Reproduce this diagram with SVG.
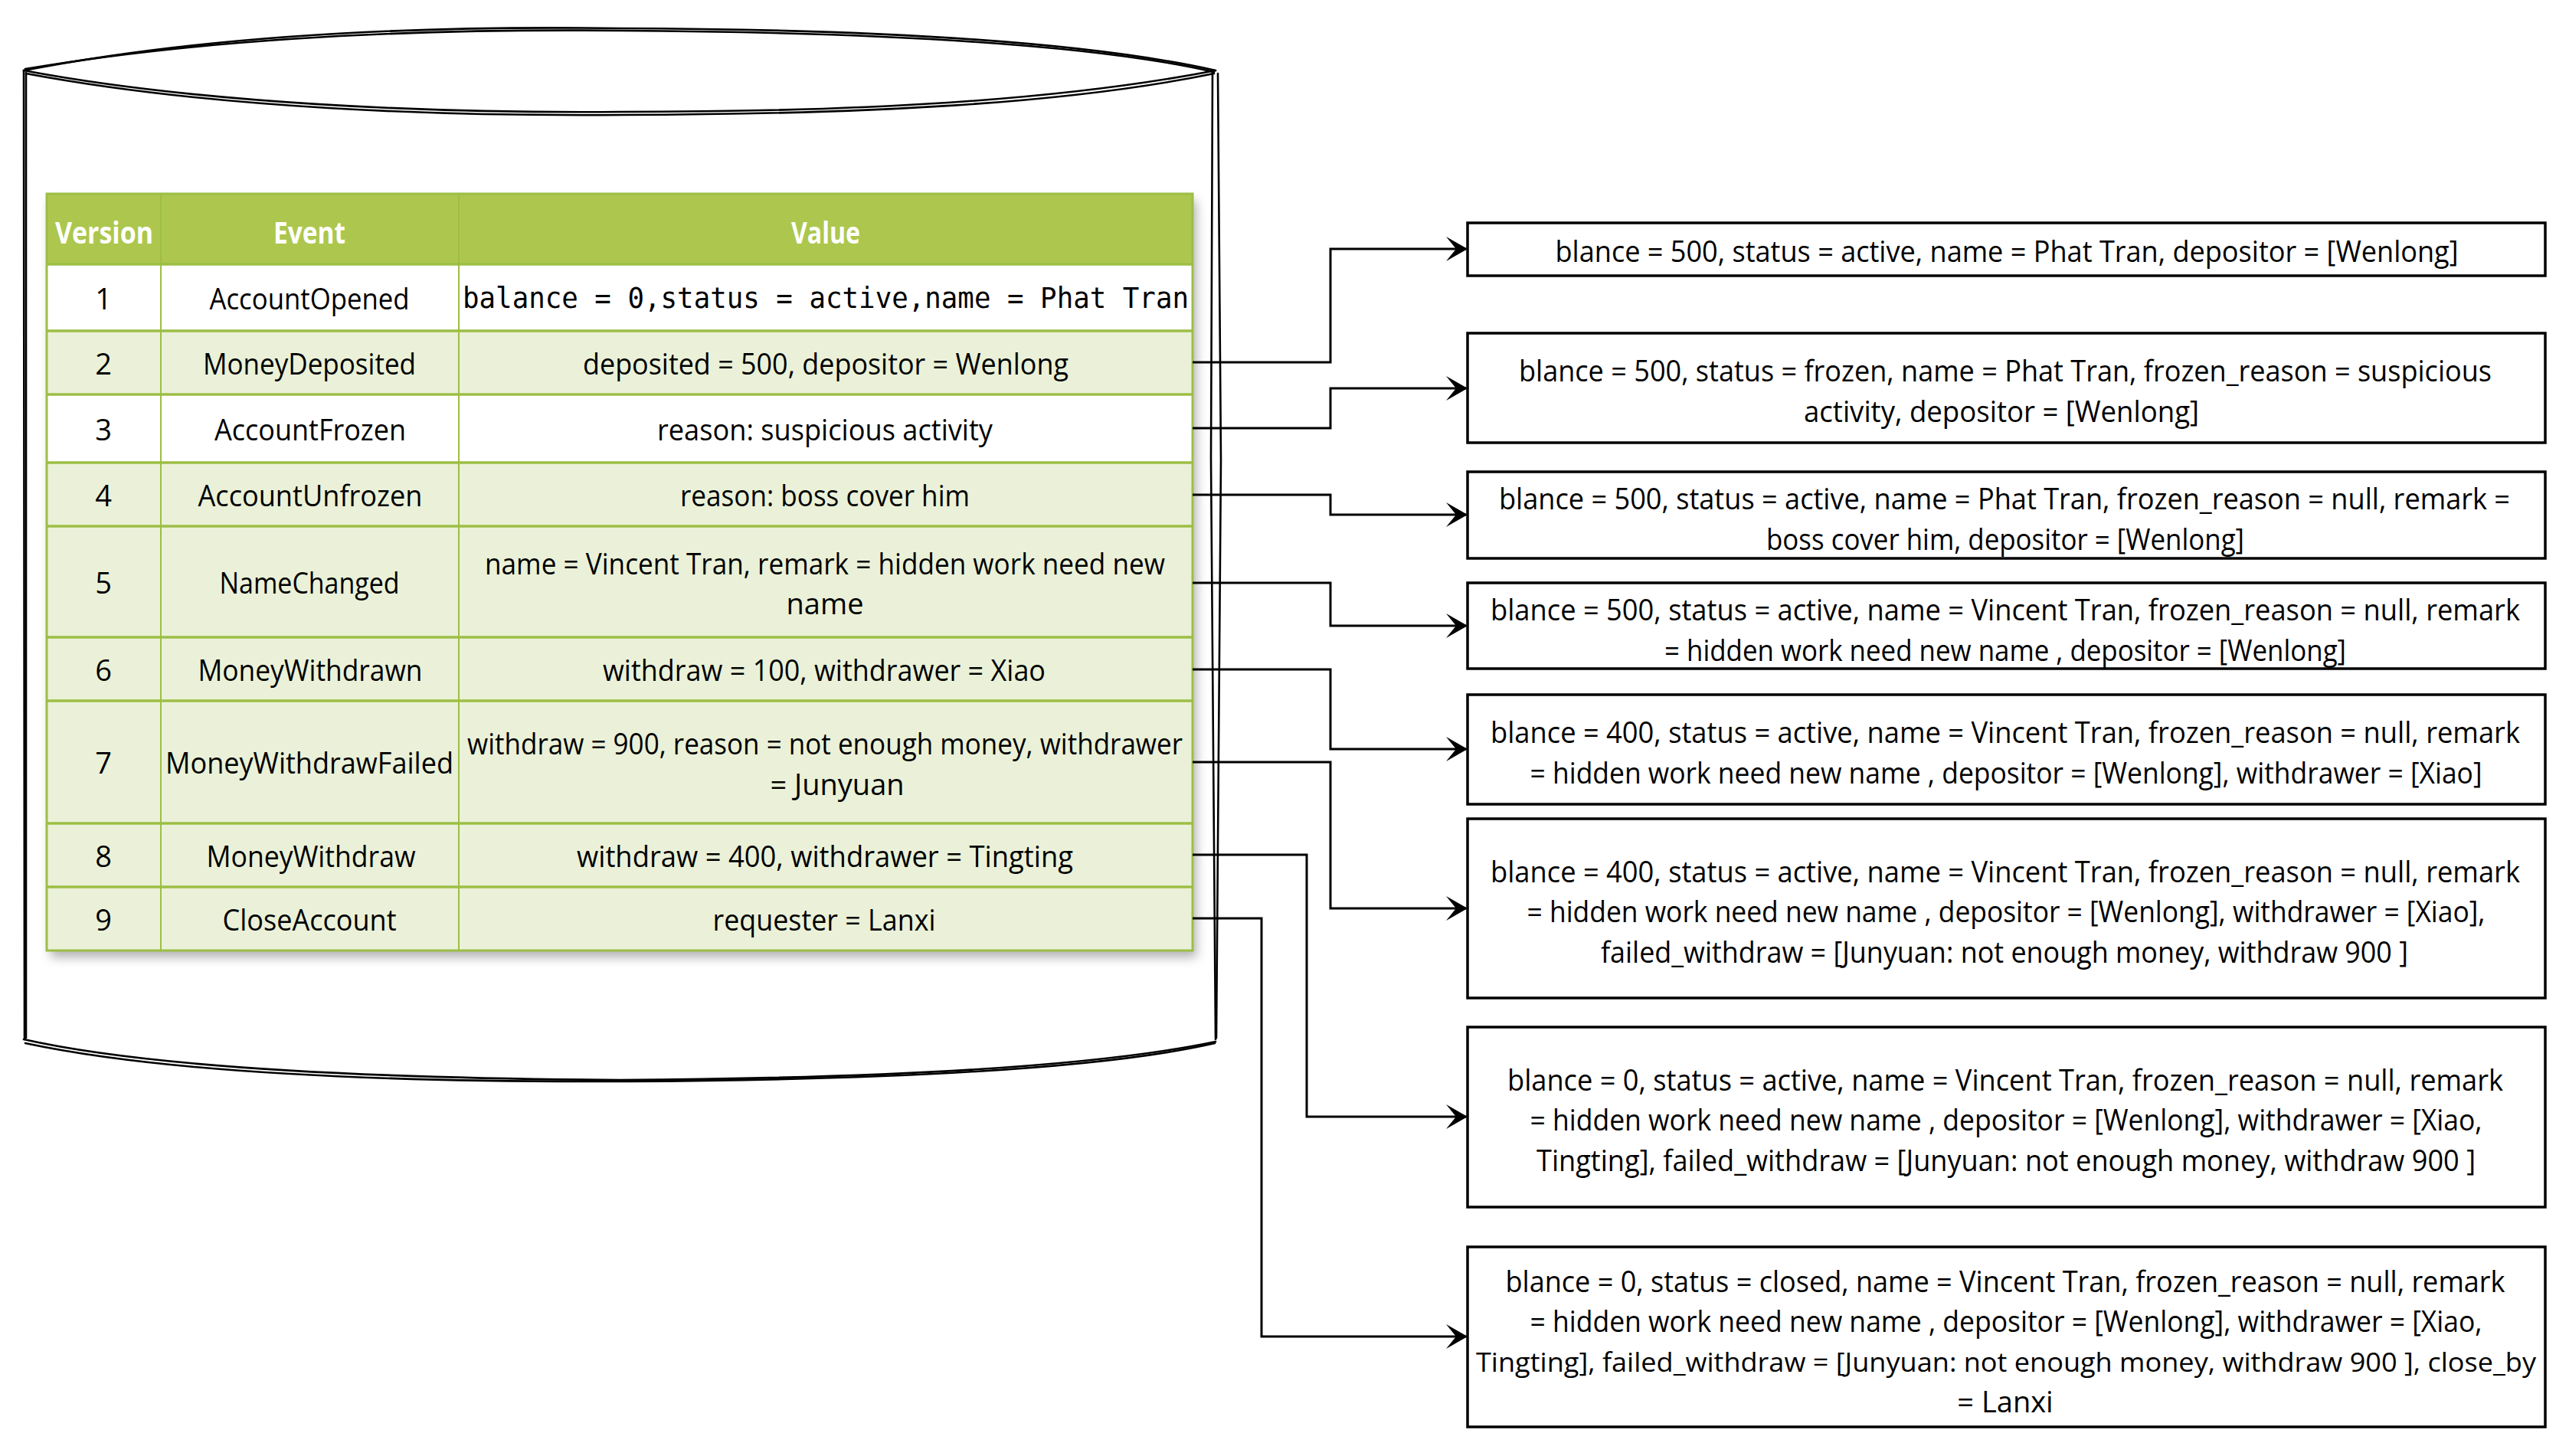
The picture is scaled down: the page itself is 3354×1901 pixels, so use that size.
<svg xmlns="http://www.w3.org/2000/svg" width="3354" height="1901" viewBox="0 0 3354 1901">
<defs>
<style>
.sk{fill:none;stroke:#000;stroke-width:2.6;stroke-linecap:round;stroke-linejoin:round}
.t{font-family:"Open Sans","Noto Sans","Liberation Sans",sans-serif;font-size:38px;fill:#000;text-anchor:middle;dominant-baseline:central}
.h{font-family:"Open Sans","Noto Sans","Liberation Sans",sans-serif;font-size:40px;font-weight:bold;fill:#fff;text-anchor:middle;dominant-baseline:central}
.mono{font-family:"DejaVu Sans Mono","Liberation Mono",monospace;font-size:37px;fill:#000;text-anchor:middle;dominant-baseline:central}
.hline{stroke:#9DBE45;stroke-width:3.5}
.vline{stroke:#9DBE45;stroke-width:2}
.box{fill:#fff;stroke:#000;stroke-width:3.5}
.conn{fill:none;stroke:#000;stroke-width:3}
</style>
<marker id="arrow" markerUnits="userSpaceOnUse" markerWidth="32" markerHeight="36" viewBox="-28 -18 32 36" refX="0" refY="0" orient="auto">
<path d="M2,0 L-26,-16 L-13,0 L-26,16 Z" fill="#000"/>
</marker>
<filter id="shadow" x="-5%" y="-5%" width="112%" height="115%">
<feDropShadow dx="5" dy="9" stdDeviation="7" flood-color="#000" flood-opacity="0.3"/>
</filter>
</defs>
<rect width="3354" height="1901" fill="#fff"/>

<g id="database">
<path d="M31,92 V1357 A778,53 0 0 0 1587,1357 V92 Z" fill="#fff" stroke="none"/>
<ellipse cx="809" cy="92" rx="778" ry="55" fill="#fff" stroke="none"/>
<path class="sk" d="M31,92 C300,40 600,34 809,37 C1100,38 1400,50 1587,92"/>
<path class="sk" d="M33,90 C320,42 620,38 812,40 C1120,42 1420,56 1585,94"/>
<path class="sk" d="M31,92 C260,135 560,148 809,146 C1120,146 1380,132 1587,92"/>
<path class="sk" d="M34,96 C280,142 580,152 815,150 C1130,149 1390,136 1585,96"/>
<path class="sk" d="M31,92 L32,1357"/>
<path class="sk" d="M34,95 L34,1355"/>
<path class="sk" d="M1583,94 L1581,600 L1587,1357"/>
<path class="sk" d="M1590,96 L1594,600 L1588,1355"/>
<path class="sk" d="M31,1357 C200,1395 500,1408 809,1410 C1120,1408 1420,1395 1587,1360"/>
<path class="sk" d="M33,1362 C220,1402 520,1413 820,1412 C1130,1410 1430,1398 1586,1362"/>
</g>

<g id="event-table">
<g filter="url(#shadow)">
<rect x="61" y="253" width="1496" height="988" fill="#EAF1D8"/>
</g>
<rect x="61" y="253" width="1496" height="92" fill="#ADC74E"/>
<rect x="61" y="345" width="1496" height="87" fill="#fff"/>
<rect x="61" y="432" width="1496" height="83" fill="#EAF1D8"/>
<rect x="61" y="515" width="1496" height="89" fill="#fff"/>
<g>
<line class="hline" x1="61" y1="345" x2="1557" y2="345"/>
<line class="hline" x1="61" y1="432" x2="1557" y2="432"/>
<line class="hline" x1="61" y1="515" x2="1557" y2="515"/>
<line class="hline" x1="61" y1="604" x2="1557" y2="604"/>
<line class="hline" x1="61" y1="687" x2="1557" y2="687"/>
<line class="hline" x1="61" y1="832" x2="1557" y2="832"/>
<line class="hline" x1="61" y1="915" x2="1557" y2="915"/>
<line class="hline" x1="61" y1="1075" x2="1557" y2="1075"/>
<line class="hline" x1="61" y1="1158" x2="1557" y2="1158"/>
<line class="vline" x1="210" y1="253" x2="210" y2="1241"/>
<line class="vline" x1="599" y1="253" x2="599" y2="1241"/>
<rect x="61" y="253" width="1496" height="988" fill="none" stroke="#9DBE45" stroke-width="3"/>
</g>
<text class="h" x="136" y="302" textLength="128" lengthAdjust="spacingAndGlyphs">Version</text>
<text class="h" x="404" y="302" textLength="94" lengthAdjust="spacingAndGlyphs">Event</text>
<text class="h" x="1078" y="302" textLength="90" lengthAdjust="spacingAndGlyphs">Value</text>

<text class="t" x="135" y="389">1</text>
<text class="t" x="135" y="474">2</text>
<text class="t" x="135" y="560">3</text>
<text class="t" x="135" y="646">4</text>
<text class="t" x="135" y="760">5</text>
<text class="t" x="135" y="874">6</text>
<text class="t" x="135" y="995">7</text>
<text class="t" x="135" y="1117">8</text>
<text class="t" x="135" y="1200">9</text>

<text class="t" x="404" y="389" textLength="261" lengthAdjust="spacingAndGlyphs">AccountOpened</text>
<text class="t" x="404" y="474" textLength="278" lengthAdjust="spacingAndGlyphs">MoneyDeposited</text>
<text class="t" x="405" y="560" textLength="250" lengthAdjust="spacingAndGlyphs">AccountFrozen</text>
<text class="t" x="405" y="646" textLength="293" lengthAdjust="spacingAndGlyphs">AccountUnfrozen</text>
<text class="t" x="404" y="760" textLength="235" lengthAdjust="spacingAndGlyphs">NameChanged</text>
<text class="t" x="405" y="874" textLength="293" lengthAdjust="spacingAndGlyphs">MoneyWithdrawn</text>
<text class="t" x="404" y="995" textLength="376" lengthAdjust="spacingAndGlyphs">MoneyWithdrawFailed</text>
<text class="t" x="406" y="1117" textLength="273" lengthAdjust="spacingAndGlyphs">MoneyWithdraw</text>
<text class="t" x="404" y="1200" textLength="227" lengthAdjust="spacingAndGlyphs">CloseAccount</text>

<text class="mono" x="1078" y="389" textLength="948" lengthAdjust="spacingAndGlyphs">balance = 0,status = active,name = Phat Tran</text>
<text class="t" x="1078" y="474" textLength="634" lengthAdjust="spacingAndGlyphs">deposited = 500, depositor = Wenlong</text>
<text class="t" x="1077" y="560" textLength="438" lengthAdjust="spacingAndGlyphs">reason: suspicious activity</text>
<text class="t" x="1077" y="646" textLength="378" lengthAdjust="spacingAndGlyphs">reason: boss cover him</text>
<text class="t" x="1077" y="735" textLength="888" lengthAdjust="spacingAndGlyphs">name = Vincent Tran, remark = hidden work need new</text>
<text class="t" x="1077" y="787">name</text>
<text class="t" x="1076" y="874" textLength="578" lengthAdjust="spacingAndGlyphs">withdraw = 100, withdrawer = Xiao</text>
<text class="t" x="1077" y="970" textLength="934" lengthAdjust="spacingAndGlyphs">withdraw = 900, reason = not enough money, withdrawer</text>
<text class="t" x="1093" y="1023">= Junyuan</text>
<text class="t" x="1077" y="1117" textLength="648" lengthAdjust="spacingAndGlyphs">withdraw = 400, withdrawer = Tingting</text>
<text class="t" x="1076" y="1200" textLength="291" lengthAdjust="spacingAndGlyphs">requester = Lanxi</text>
</g>

<g id="connectors">
<path class="conn" d="M1557,473 H1737 V325 H1914" marker-end="url(#arrow)"/>
<path class="conn" d="M1557,559 H1737 V507 H1914" marker-end="url(#arrow)"/>
<path class="conn" d="M1557,646 H1737 V672 H1914" marker-end="url(#arrow)"/>
<path class="conn" d="M1557,761 H1737 V817 H1914" marker-end="url(#arrow)"/>
<path class="conn" d="M1557,874 H1737 V978 H1914" marker-end="url(#arrow)"/>
<path class="conn" d="M1557,995 H1737 V1186 H1914" marker-end="url(#arrow)"/>
<path class="conn" d="M1557,1116 H1706 V1458 H1914" marker-end="url(#arrow)"/>
<path class="conn" d="M1557,1199 H1647 V1745 H1914" marker-end="url(#arrow)"/>
</g>

<g id="state-1">
<rect class="box" x="1916" y="291" width="1407" height="69"/>
<text class="t" x="2620" y="327" textLength="1179" lengthAdjust="spacingAndGlyphs">blance = 500, status = active, name = Phat Tran, depositor = [Wenlong]</text>
</g>
<g id="state-2">
<rect class="box" x="1916" y="435" width="1407" height="143"/>
<text class="t" x="2618" y="483" textLength="1270" lengthAdjust="spacingAndGlyphs">blance = 500, status = frozen, name = Phat Tran, frozen_reason = suspicious</text>
<text class="t" x="2613" y="536" textLength="516" lengthAdjust="spacingAndGlyphs">activity, depositor = [Wenlong]</text>
</g>
<g id="state-3">
<rect class="box" x="1916" y="616" width="1407" height="113"/>
<text class="t" x="2617" y="650" textLength="1320" lengthAdjust="spacingAndGlyphs">blance = 500, status = active, name = Phat Tran, frozen_reason = null, remark =</text>
<text class="t" x="2618" y="703" textLength="624" lengthAdjust="spacingAndGlyphs">boss cover him, depositor = [Wenlong]</text>
</g>
<g id="state-4">
<rect class="box" x="1916" y="761" width="1407" height="112"/>
<text class="t" x="2618" y="795" textLength="1344" lengthAdjust="spacingAndGlyphs">blance = 500, status = active, name = Vincent Tran, frozen_reason = null, remark</text>
<text class="t" x="2618" y="848" textLength="890" lengthAdjust="spacingAndGlyphs">= hidden work need new name , depositor = [Wenlong]</text>
</g>
<g id="state-5">
<rect class="box" x="1916" y="907" width="1407" height="143"/>
<text class="t" x="2618" y="955" textLength="1344" lengthAdjust="spacingAndGlyphs">blance = 400, status = active, name = Vincent Tran, frozen_reason = null, remark</text>
<text class="t" x="2619" y="1008" textLength="1243" lengthAdjust="spacingAndGlyphs">= hidden work need new name , depositor = [Wenlong], withdrawer = [Xiao]</text>
</g>
<g id="state-6">
<rect class="box" x="1916" y="1069" width="1407" height="234"/>
<text class="t" x="2618" y="1137" textLength="1344" lengthAdjust="spacingAndGlyphs">blance = 400, status = active, name = Vincent Tran, frozen_reason = null, remark</text>
<text class="t" x="2619" y="1189" textLength="1251" lengthAdjust="spacingAndGlyphs">= hidden work need new name , depositor = [Wenlong], withdrawer = [Xiao],</text>
<text class="t" x="2617" y="1242" textLength="1054" lengthAdjust="spacingAndGlyphs">failed_withdraw = [Junyuan: not enough money, withdraw 900 ]</text>
</g>
<g id="state-7">
<rect class="box" x="1916" y="1341" width="1407" height="235"/>
<text class="t" x="2618" y="1409" textLength="1300" lengthAdjust="spacingAndGlyphs">blance = 0, status = active, name = Vincent Tran, frozen_reason = null, remark</text>
<text class="t" x="2619" y="1461" textLength="1243" lengthAdjust="spacingAndGlyphs">= hidden work need new name , depositor = [Wenlong], withdrawer = [Xiao,</text>
<text class="t" x="2619" y="1514" textLength="1226" lengthAdjust="spacingAndGlyphs">Tingting], failed_withdraw = [Junyuan: not enough money, withdraw 900 ]</text>
</g>
<g id="state-8">
<rect class="box" x="1916" y="1628" width="1407" height="235"/>
<text class="t" x="2618" y="1672" textLength="1305" lengthAdjust="spacingAndGlyphs">blance = 0, status = closed, name = Vincent Tran, frozen_reason = null, remark</text>
<text class="t" x="2619" y="1724" textLength="1243" lengthAdjust="spacingAndGlyphs">= hidden work need new name , depositor = [Wenlong], withdrawer = [Xiao,</text>
<text class="t" x="2619" y="1777" style="font-size:35px" textLength="1384" lengthAdjust="spacingAndGlyphs">Tingting], failed_withdraw = [Junyuan: not enough money, withdraw 900 ], close_by</text>
<text class="t" x="2618" y="1829">= Lanxi</text>
</g>
</svg>
